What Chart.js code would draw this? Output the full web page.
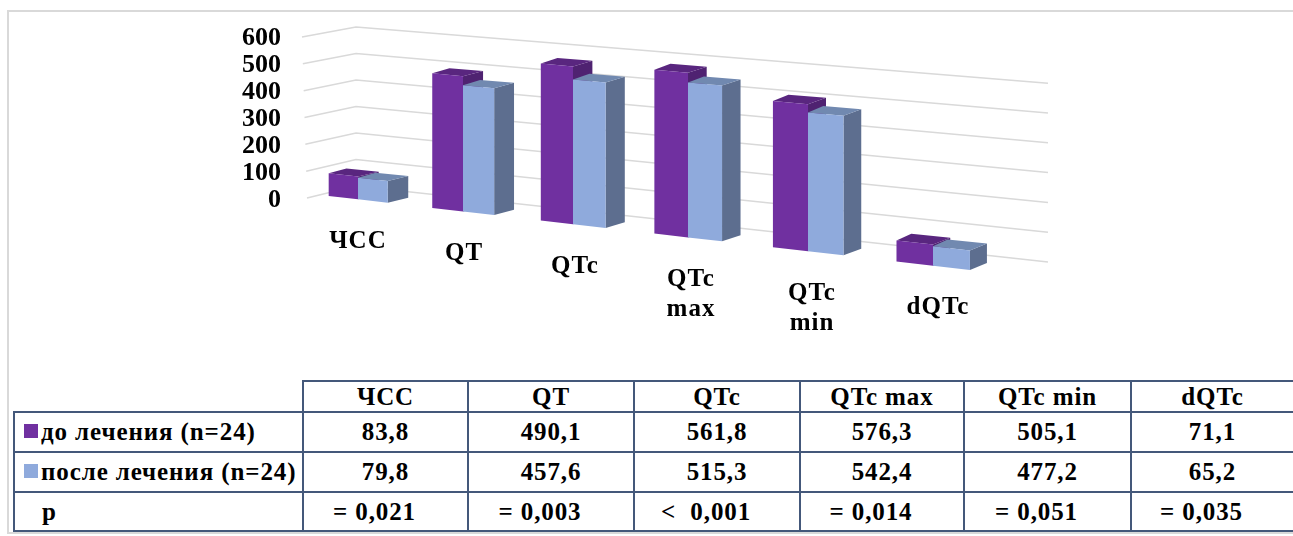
<!DOCTYPE html>
<html>
<head>
<meta charset="utf-8">
<script src="https://cdn.jsdelivr.net/npm/chart.js@4"></script>
<style>
  html, body { margin: 0; padding: 0; background: #fff; }
  #page { position: relative; width: 1293px; height: 536px; overflow: hidden; }
  #frame { position: absolute; left: 7px; top: 10px; width: 1300px; height: 524px; border: 2px solid #d9d9d9; box-sizing: border-box; }
  #chartBox { position: absolute; left: 0; top: 0; width: 1293px; height: 375px; }
  table { position: absolute; left: 13px; top: 380px; border-collapse: collapse; table-layout: fixed; width: 1301px;
    font: bold 25px "Liberation Serif", serif; letter-spacing: 0.9px; color: #000; }
  td { border: 2px solid #44587a; text-align: center; padding: 0; white-space: pre; }
  td.blank { border-top: none; border-left: none; }
  td.name { text-align: left; padding-left: 26px; position: relative; }
  td.p { padding-left: 27px; }
  td.pv { padding-right: 22px; }
  .swatch { position: absolute; left: 9px; top: 11px; width: 14px; height: 14px; }
</style>
</head>
<body>
<div id="page">
  <div id="frame"></div>
  <div id="chartBox"><canvas id="chart"></canvas></div>
  <table id="dataTable"></table>
</div>
<script>
const categories = [["ЧСС"], ["QT"], ["QTc"], ["QTc", "max"], ["QTc", "min"], ["dQTc"]];
const beforeName = "до лечения (n=24)";
const afterName = "после лечения (n=24)";
const beforeValues = [83.8, 490.1, 561.8, 576.3, 505.1, 71.1];
const afterValues = [79.8, 457.6, 515.3, 542.4, 477.2, 65.2];
const pValues = ["= 0,021", "= 0,003", "<  0,001", "= 0,014", "= 0,051", "= 0,035"];
const yMax = 600;
const yStep = 100;

const colBefore = { front: "#7030a0", top: "#59267f", side: "#4f2271" };
const colAfter = { front: "#8faadc", top: "#7189b0", side: "#5d6e8f" };
const gridColor = "#d9d9d9";
const font = '"Liberation Serif", serif';

// the perspective of the original 3d chart: category position -> screen x, value -> screen y
function screenX(u) { return 358 + 102.5 * u + 2.5 * u * u; }
function floorY(x) { return 196 + 0.1154 * (x - 329); }
function perValue(x) { return (27 + 0.0044 * (x - 329)) / 100; }
function depthX(x) { return 20.5 - (x - 388) * 3.5 / 582; }
function depthY(x) { return -5 - (x - 388) * 2 / 582; }

function project(chart, px, py) {
  const area = chart.chartArea;
  const catW = (area.right - area.left) / categories.length;
  const x = screenX((px - area.left) / catW - 0.5);
  const v = chart.scales.y.getValueForPixel(py);
  return { x: x, y: floorY(x) - v * perValue(x) };
}

function poly(ctx, pts, color) {
  ctx.fillStyle = color;
  ctx.beginPath();
  pts.forEach((p, i) => (i ? ctx.lineTo(p.x, p.y) : ctx.moveTo(p.x, p.y)));
  ctx.closePath();
  ctx.fill();
}

function back(p, k) {
  return { x: p.x + depthX(p.x) * (k || 1), y: p.y + depthY(p.x) };
}

const walls = {
  id: "walls",
  beforeDatasetsDraw(chart) {
    const ctx = chart.ctx;
    const yScale = chart.scales.y;
    ctx.save();
    ctx.strokeStyle = gridColor;
    ctx.lineWidth = 1.5;
    yScale.ticks.forEach((t) => {
      const v = t.value;
      ctx.beginPath();
      ctx.moveTo(307 - v * 5 / yMax, 198 - v * 0.2683);
      ctx.lineTo(356, 186 - v * 0.265);
      ctx.lineTo(1048, 262 - v * 0.298);
      ctx.stroke();
    });
    ctx.restore();
  },
};

const bars3d = {
  id: "bars3d",
  beforeDatasetsDraw(chart) {
    const ctx = chart.ctx;
    const colors = [colBefore, colAfter];
    ctx.save();
    categories.forEach((c, i) => {
      colors.forEach((col, d) => {
        const el = chart.getDatasetMeta(d).data[i];
        const l = el.x - el.width / 2;
        const r = el.x + el.width / 2;
        const tl = project(chart, l, el.y);
        const tr = project(chart, r, el.y);
        const bl = project(chart, l, el.base);
        const br = project(chart, r, el.base);
        poly(ctx, [br, back(br), back(tr), tr], col.side);
        poly(ctx, [tl, back(tl, 0.85), back(tr), tr], col.top);
        poly(ctx, [tl, tr, br, bl], col.front);
      });
    });
    // category names sit under the slanted floor
    const area = chart.chartArea;
    ctx.fillStyle = "#000";
    ctx.font = "bold 25px " + font;
    ctx.letterSpacing = "1px";
    ctx.textAlign = "center";
    ctx.textBaseline = "middle";
    categories.forEach((lines, i) => {
      const px = chart.scales.x.getPixelForValue(i);
      const x = project(chart, px, area.bottom).x;
      lines.forEach((s, n) => ctx.fillText(s, x + i, floorY(x) + 42 + n * 30));
    });
    ctx.restore();
    return false;
  },
};

new Chart(document.getElementById("chart"), {
  type: "bar",
  data: {
    labels: categories.map((c) => c.join(" ")),
    datasets: [
      { label: beforeName, data: beforeValues, backgroundColor: colBefore.front },
      { label: afterName, data: afterValues, backgroundColor: colAfter.front },
    ],
  },
  options: {
    responsive: true,
    maintainAspectRatio: false,
    animation: false,
    events: [],
    layout: { padding: { left: 234, right: 245, top: 38, bottom: 175 } },
    datasets: { bar: { categoryPercentage: 0.576, barPercentage: 1 } },
    plugins: { legend: { display: false }, tooltip: { enabled: false } },
    scales: {
      x: { display: false },
      y: {
        min: 0,
        max: yMax,
        border: { display: false },
        grid: { display: false },
        ticks: { stepSize: yStep, autoSkip: false, color: "#000", padding: 8, font: { family: font, size: 26, weight: "bold" } },
      },
    },
  },
  plugins: [walls, bars3d],
});

// data table under the chart
const colWidths = [289, 165, 166, 166, 164, 167, 163, 21];
const rowHeights = [31, 40, 40, 39];
const fmt = (v) => v.toFixed(1).replace(".", ",");
function row(name, cells, height, swatch, cellClass) {
  const tr = document.createElement("tr");
  tr.style.height = height + "px";
  const first = document.createElement("td");
  first.className = name ? "name" : "blank";
  first.textContent = name;
  if (swatch) {
    const s = document.createElement("span");
    s.className = "swatch";
    s.style.background = swatch;
    first.appendChild(s);
  }
  tr.appendChild(first);
  cells.forEach((t) => {
    const td = document.createElement("td");
    td.textContent = t;
    if (cellClass) td.className = cellClass;
    tr.appendChild(td);
  });
  return tr;
}
const tbl = document.getElementById("dataTable");
const cg = document.createElement("colgroup");
colWidths.forEach((w) => {
  const c = document.createElement("col");
  c.style.width = w + "px";
  cg.appendChild(c);
});
tbl.appendChild(cg);
tbl.appendChild(row("", categories.map((c) => c.join(" ")).concat(""), rowHeights[0]));
tbl.appendChild(row(beforeName, beforeValues.map(fmt).concat(""), rowHeights[1], colBefore.front));
tbl.appendChild(row(afterName, afterValues.map(fmt).concat(""), rowHeights[2], colAfter.front));
const pRow = row("p", pValues.concat(""), rowHeights[3], null, "pv");
pRow.firstChild.classList.add("p");
tbl.appendChild(pRow);
</script>
</body>
</html>
